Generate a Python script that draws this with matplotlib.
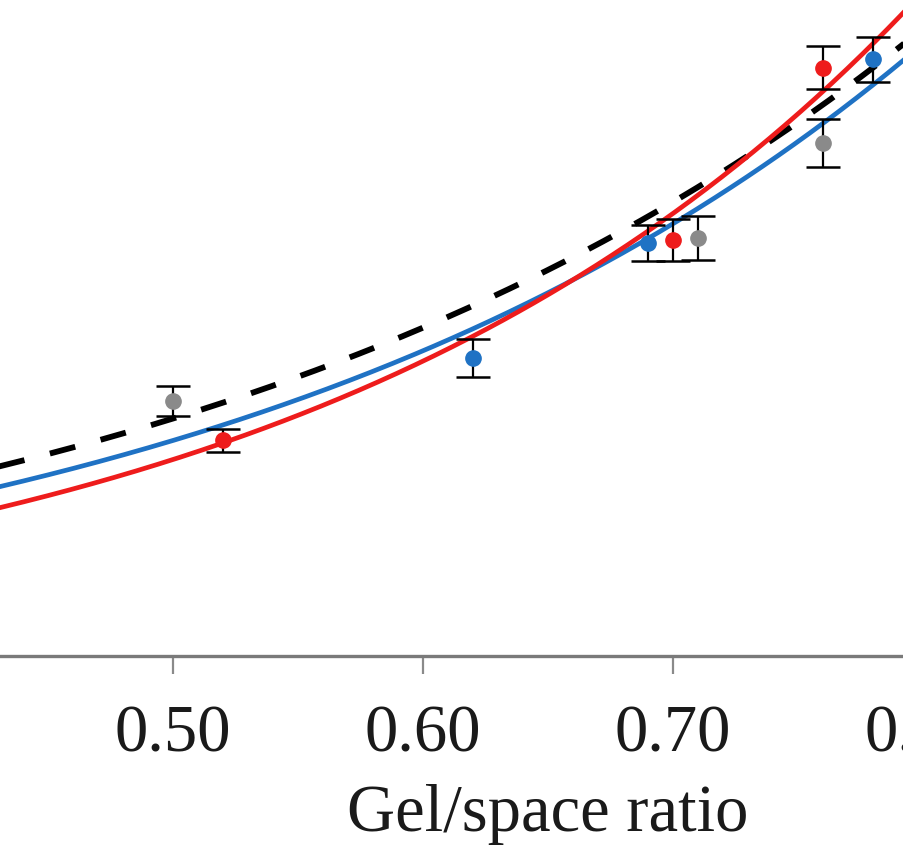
import numpy as np
import matplotlib
matplotlib.use("Agg")
import matplotlib.pyplot as plt

plt.rcParams["font.family"] = ["Liberation Serif", "DejaVu Serif"]

# Measured compressive strength (MPa) against gel/space ratio, with error bars
gray_x = [0.50, 0.71, 0.76]
gray_y = [39.2, 64.3, 78.9]
gray_err = [2.3, 3.4, 3.7]

red_x = [0.52, 0.70, 0.76]
red_y = [33.2, 64.0, 90.5]
red_err = [1.8, 3.2, 3.3]

blue_x = [0.62, 0.69, 0.78]
blue_y = [45.8, 63.5, 91.8]
blue_err = [2.9, 2.8, 3.5]

# Exponential fits  f = a * exp(b * x)
fit_black = (7.23, 3.24)
fit_red = (3.97, 4.06)
fit_blue = (5.82, 3.48)

x_ticks = [0.40, 0.50, 0.60, 0.70, 0.80, 0.90]
x_tick_labels = ["0.40", "0.50", "0.60", "0.70", "0.80", "0.90"]

RED = "#ee1c1c"
BLUE = "#1f72c4"
GRAY = "#8a8a8a"

fig = plt.figure(figsize=(9.04, 8.5), dpi=100)
ax = fig.add_axes([-77 / 904, 194 / 850, 1250 / 904, 780 / 850])
ax.set_xlim(0.40, 0.90)
ax.set_ylim(0, 120)

xs = np.linspace(0.40, 0.90, 400)


def curve(p):
    a, b = p
    return a * np.exp(b * xs)


ax.plot(xs, curve(fit_black), color="black", lw=4.2, ls=(0, (4.5, 4.5)), zorder=3)
ax.plot(xs, curve(fit_blue), color=BLUE, lw=3.4, zorder=3)
ax.plot(xs, curve(fit_red), color=RED, lw=3.4, zorder=3)

for x, y, e, c in [(gray_x, gray_y, gray_err, GRAY),
                   (red_x, red_y, red_err, RED),
                   (blue_x, blue_y, blue_err, BLUE)]:
    ax.errorbar(x, y, yerr=e, fmt="o", color=c, ms=11, mec=c,
                ecolor="black", elinewidth=1.6, capsize=12, capthick=1.8,
                zorder=4)

for s in ["left", "right", "top"]:
    ax.spines[s].set_visible(False)
ax.spines["bottom"].set_color("#7a7a7a")
ax.spines["bottom"].set_linewidth(2.4)

ax.set_yticks([])
ax.set_xticks(x_ticks)
ax.set_xticklabels(x_tick_labels)
ax.tick_params(axis="x", direction="out", length=13, width=1.6,
               color="#8a8a8a", labelsize=48, pad=22, labelcolor="#1a1a1a")
ax.set_xlabel("Gel/space ratio", fontsize=48, color="#1a1a1a", labelpad=13)

fig.savefig("out.png", dpi=100, facecolor="white")
